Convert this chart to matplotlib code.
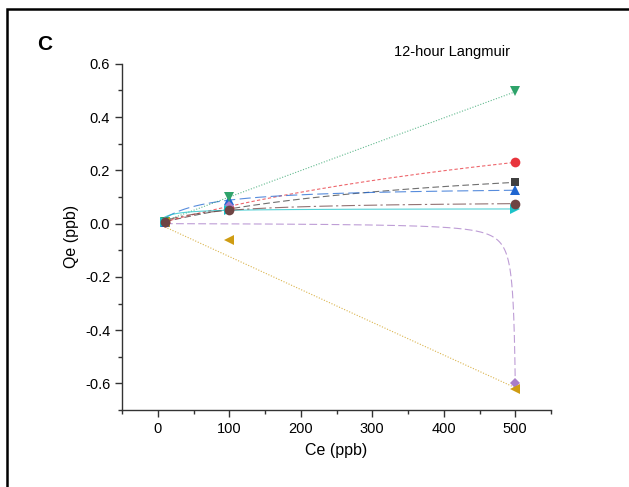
import matplotlib.pyplot as plt
import numpy as np
from matplotlib.patches import Rectangle

plt.rcParams['font.family'] = ['Liberation Sans', 'DejaVu Sans']

# measured points (Ce in ppb, Qe in ppb)
ce = [10, 100, 500]
qe_sq = [0.005, 0.052, 0.155]
qe_red = [0.005, 0.058, 0.233]
qe_blue = [0.005, 0.088, 0.125]
qe_green = [0.005, 0.099, 0.497]
qe_purple = [0.005, 0.065, -0.60]
qe_gold = [0.005, -0.06, -0.62]
qe_cyan = [0.005, 0.05, 0.056]
qe_brown = [0.005, 0.05, 0.075]

# Langmuir fit parameters per series (Qmax, K)
qmax = [0.284, 0.63, 0.14, 50.0, 0.0036, -100.0, 0.0564, 0.0857]
kl = [0.0024, 0.00115, 0.017, 2e-5, -1 / 503.0, 1.24e-5, 0.078, 0.014]

colors = ['#404040', '#e8343c', '#1f66d1', '#2ea36a', '#a87cc8', '#cf9c12', '#1cc3c9', '#6e4444']
markers = ['s', 'o', '^', 'v', 'D', '<', '>', 'o']
msizes = [6, 7, 7, 7, 5.5, 7, 7, 7]
styles = [(0, (6, 3)), (0, (3, 2)), (0, (10, 4)), (0, (1, 1.5)), (0, (7, 3)), (0, (1, 1.5)), '-', (0, (12, 3, 2, 3))]

series = [qe_sq, qe_red, qe_blue, qe_green, qe_purple, qe_gold, qe_cyan, qe_brown]

fig = plt.figure(figsize=(6.29, 4.87), dpi=100)
ax = fig.add_axes([0.194, 0.158, 0.682, 0.711])

cfit = np.linspace(10, 500, 3000)
for i in range(len(series)):
    q = qmax[i] * kl[i] * cfit / (1 + kl[i] * cfit)
    ax.plot(cfit, q, color=colors[i], linestyle=styles[i], lw=0.8, alpha=0.75)
for i in range(len(series)):
    ax.plot(ce, series[i], linestyle='none', marker=markers[i], color=colors[i],
            markersize=msizes[i], markeredgewidth=0)

ax.set_xlim(-50, 550)
ax.set_ylim(-0.7, 0.6)
ax.set_xticks([0, 100, 200, 300, 400, 500])
ax.set_xticks(np.arange(-50, 551, 50), minor=True)
ax.set_yticks([-0.6, -0.4, -0.2, 0.0, 0.2, 0.4, 0.6])
ax.set_yticks(np.arange(-0.7, 0.61, 0.1), minor=True)
ax.set_yticklabels(['-0.6', '-0.4', '-0.2', '0.0', '0.2', '0.4', '0.6'])

for s in ['top', 'right']:
    ax.spines[s].set_visible(False)
for s in ['left', 'bottom']:
    ax.spines[s].set_color('#333333')
    ax.spines[s].set_linewidth(1.0)
ax.tick_params(which='major', direction='out', length=5, width=1, color='#333333', labelsize=10.5)
ax.tick_params(which='minor', direction='out', length=3, width=1, color='#333333')

ax.set_xlabel('Ce (ppb)', fontsize=11.5, labelpad=5)
ax.set_ylabel('Qe (ppb)', fontsize=11.5, labelpad=4)

fig.text(452 / 629, 1 - 52 / 487, '12-hour Langmuir', fontsize=10.5, ha='center', va='center')
fig.text(37 / 629, 1 - 44 / 487, 'C', fontsize=15, fontweight='bold', ha='left', va='center')

# outer frame of the panel
fig.patches.append(Rectangle((7 / 629, -0.1), 2, 1 - 8.5 / 487 + 0.1, transform=fig.transFigure,
                             fill=False, edgecolor='black', linewidth=1.8))

fig.savefig('out.png', dpi=100)
